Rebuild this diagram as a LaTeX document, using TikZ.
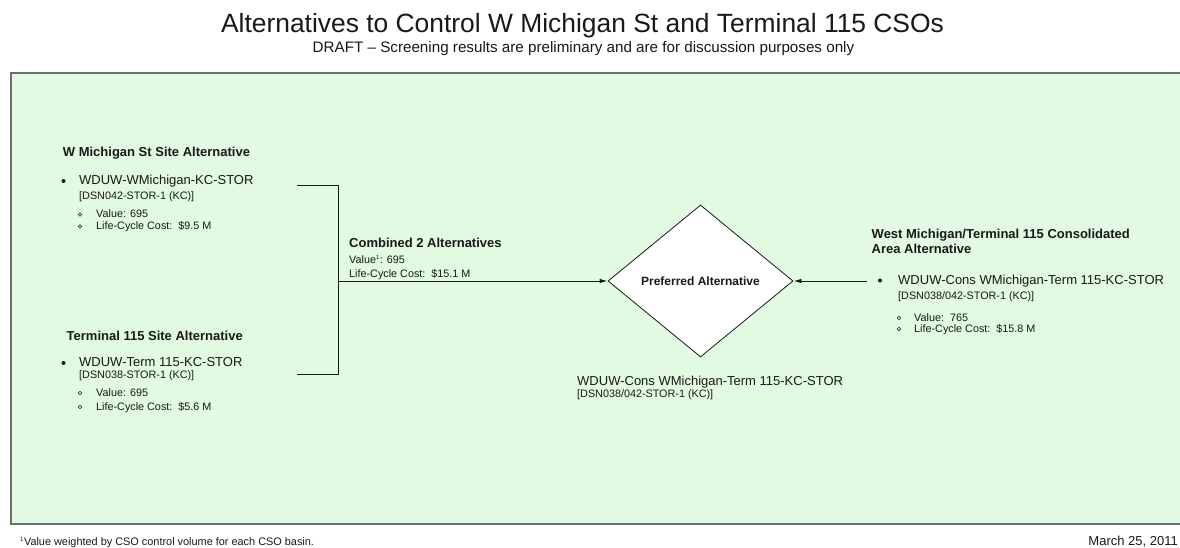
\documentclass[tikz,border=0pt]{standalone}
\usepackage{fontspec}
\setmainfont{Liberation Sans}
\usetikzlibrary{shapes.geometric,arrows.meta}
\definecolor{panelfill}{RGB}{225,250,225}
\definecolor{panelline}{RGB}{110,110,110}
\definecolor{ink}{RGB}{25,25,25}
\tikzset{
  txt/.style={anchor=base west,inner sep=0pt,text=ink},
  head/.style={txt,font=\fontsize{13}{15}\selectfont\bfseries},
  main/.style={txt,font=\fontsize{13}{15}\selectfont},
  small/.style={txt,font=\fontsize{10.8}{12}\selectfont},
  dotb/.style={circle,fill=ink,inner sep=0pt,minimum size=4pt},
  ringb/.style={circle,draw=ink,line width=0.6pt,inner sep=0pt,minimum size=3.6pt},
  conn/.style={draw=ink,line width=1pt},
  arr/.style={conn,-{Latex[length=8pt,width=4.5pt]}},
}
\begin{document}
\begin{tikzpicture}[x=1pt,y=-1pt]
\useasboundingbox (0,0) rectangle (1180,548);
\fill[white] (0,0) rectangle (1180,548);
% panel
\fill[panelfill] (11,73) rectangle (1181,524);
\draw[panelline,line width=1.6pt] (1181,73) -- (11,73) -- (11,524) -- (1181,524);
% title
\node[anchor=base,inner sep=0pt,text=ink,font=\fontsize{26.4}{30}\selectfont] (title) at (582.5,32.3) {Alternatives to Control W Michigan St and Terminal 115 CSOs};
\node[anchor=base,inner sep=0pt,text=ink,font=\fontsize{15.2}{17}\selectfont] (subtitle) at (583.5,52.7) {DRAFT – Screening results are preliminary and are for discussion purposes only};
% W Michigan
\node[head] (wmh) at (62.7,156.5) {W Michigan St Site Alternative};
\node[dotb] (wmdot) at (63.5,181) {};
\node[main] (wmalt) at (79,185) {WDUW-WMichigan-KC-STOR};
\node[small] (wmdsn) at (79,200) {[DSN042-STOR-1 (KC)]};
\node[ringb] (wmr1) at (80,214.5) {};
\node[small] (wmv) at (96,217.5) {Value: 695};
\node[ringb] (wmr2) at (80,226.5) {};
\node[small] (wmc) at (96,229.5) {Life-Cycle Cost:\ \ \$9.5 M};
% Terminal 115
\node[head] (t1h) at (66.5,340.5) {Terminal 115 Site Alternative};
\node[dotb] (t1dot) at (63.5,363) {};
\node[main] (t1alt) at (79,366) {WDUW-Term 115-KC-STOR};
\node[small] (t1dsn) at (79,378.5) {[DSN038-STOR-1 (KC)]};
\node[ringb] (t1r1) at (80,393) {};
\node[small] (t1v) at (96,396) {Value: 695};
\node[ringb] (t1r2) at (80,407) {};
\node[small] (t1c) at (96,410) {Life-Cycle Cost:\ \ \$5.6 M};
% bracket
\coordinate (bt) at (297,186);
\coordinate (btc) at (338,186);
\coordinate (bb) at (297,374);
\coordinate (bbc) at (338,374);
\coordinate (bm) at (338,281);
\draw[conn] (bt) -- (btc) -- (bbc) -- (bb);
% combined
\node[head] (ch) at (349,247) {Combined 2 Alternatives};
\node[small] (cv) at (349,263.5) {Value\textsuperscript{\fontsize{6}{6}\selectfont 1}: 695};
\node[small] (cc) at (349,277) {Life-Cycle Cost:\ \ \$15.1 M};
% diamond
\node[diamond,draw=ink,line width=0.8pt,fill=white,minimum width=185pt,minimum height=152pt,inner sep=0pt,text=ink,font=\fontsize{12}{14}\selectfont\bfseries] (pref) at (700.5,281) {Preferred Alternative};
\draw[arr] (bm) -- (pref.west);
\node[main] (palt) at (577,385) {WDUW-Cons WMichigan-Term 115-KC-STOR};
\node[small] (pdsn) at (577,397) {[DSN038/042-STOR-1 (KC)]};
% consolidated
\node[head] (coh1) at (871.5,238.5) {West Michigan/Terminal 115 Consolidated};
\node[head] (coh2) at (871.5,253) {Area Alternative};
\coordinate (rs) at (867,281);
\draw[arr] (rs) -- (pref.east);
\node[dotb] (codot) at (880,280.5) {};
\node[main] (coalt) at (898,284.5) {WDUW-Cons WMichigan-Term 115-KC-STOR};
\node[small] (codsn) at (898,299) {[DSN038/042-STOR-1 (KC)]};
\node[ringb] (cor1) at (899,318) {};
\node[small] (cov) at (914,321) {Value:\ \ 765};
\node[ringb] (cor2) at (899,329) {};
\node[small] (coc) at (914,332) {Life-Cycle Cost:\ \ \$15.8 M};
% footer
\node[txt,font=\fontsize{10.9}{12}\selectfont] (foot) at (20,545) {\textsuperscript{\fontsize{6}{6}\selectfont 1}Value weighted by CSO control volume for each CSO basin.};
\node[anchor=base east,inner sep=0pt,text=ink,font=\fontsize{13}{15}\selectfont] (date) at (1178,545.5) {March 25, 2011};
\end{tikzpicture}
\end{document}
